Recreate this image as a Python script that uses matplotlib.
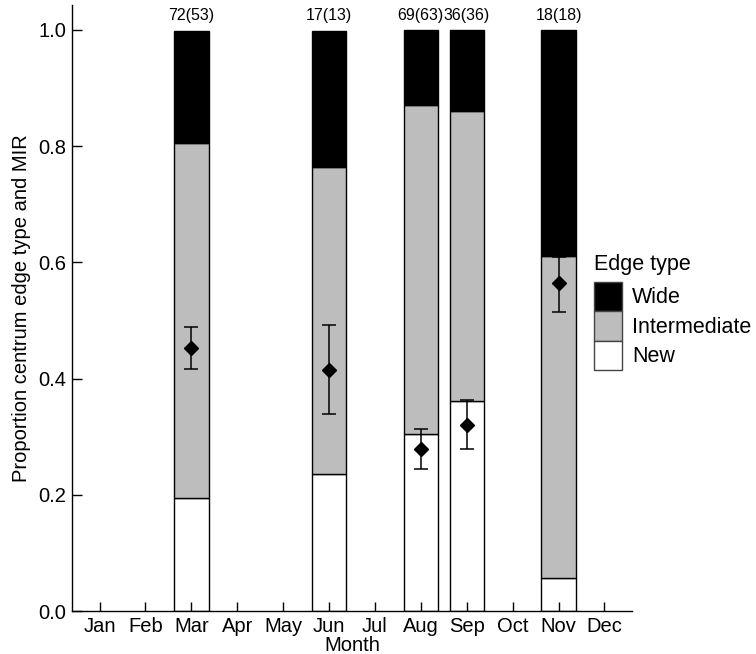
import matplotlib
matplotlib.use("Agg")
import matplotlib.pyplot as plt
from matplotlib.patches import Patch
import numpy as np

plt.rcParams['font.family'] = ['Liberation Sans', 'DejaVu Sans']

months = ["Jan", "Feb", "Mar", "Apr", "May", "Jun", "Jul", "Aug", "Sep", "Oct", "Nov", "Dec"]
sample_months = [3, 6, 8, 9, 11]
new_prop = [0.194, 0.235, 0.304, 0.361, 0.056]
inter_prop = [0.611, 0.529, 0.566, 0.500, 0.555]
wide_prop = [0.194, 0.235, 0.130, 0.139, 0.389]
mir_mean = [0.452, 0.415, 0.279, 0.321, 0.564]
mir_low = [0.417, 0.339, 0.245, 0.278, 0.514]
mir_high = [0.488, 0.492, 0.314, 0.364, 0.610]
n_labels = ["72(53)", "17(13)", "69(63)", "36(36)", "18(18)"]

gray = '#bdbdbd'

fig = plt.figure(figsize=(7.56, 6.54), dpi=100)
ax = fig.add_axes([0.0952, 0.0657, 0.7408, 0.9267])

x = np.array(sample_months)
new = np.array(new_prop)
inter = np.array(inter_prop)
wide = np.array(wide_prop)
w = 0.75
ax.bar(x, new, width=w, color='white', edgecolor='black', linewidth=1.0)
ax.bar(x, inter, width=w, bottom=new, color=gray, edgecolor='black', linewidth=1.0)
ax.bar(x, wide, width=w, bottom=new + inter, color='black', edgecolor='black', linewidth=1.0)

mean = np.array(mir_mean)
yerr = np.vstack([mean - np.array(mir_low), np.array(mir_high) - mean])
ax.errorbar(x, mean, yerr=yerr, fmt='D', color='black', markersize=6.7,
            ecolor='black', elinewidth=1.1, capsize=4.7, capthick=1.1)

for xi, lab in zip(x, n_labels):
    ax.annotate(lab, (xi, 1.0), xytext=(0, 5), textcoords='offset points',
                ha='center', va='bottom', fontsize=11.5)

ax.set_xlim(0.4, 12.6)
ax.set_ylim(0, 1.043)
ax.set_xticks(range(1, 13))
ax.set_xticklabels(months)
ax.set_yticks([0.0, 0.2, 0.4, 0.6, 0.8, 1.0])
ax.set_yticklabels(["0.0", "0.2", "0.4", "0.6", "0.8", "1.0"])
ax.tick_params(axis='x', direction='in', length=6.7, width=1.0, labelsize=14.5, pad=4.5)
ax.tick_params(axis='y', direction='in', length=7, width=1.0, labelsize=14.5, pad=4)
for s in ['top', 'right']:
    ax.spines[s].set_visible(False)
for s in ['left', 'bottom']:
    ax.spines[s].set_linewidth(1.0)
ax.set_xlabel("Month", fontsize=14.5, labelpad=-0.5)
ax.set_ylabel("Proportion centrum edge type and MIR", fontsize=14.5, labelpad=5)

handles = [Patch(facecolor='black', edgecolor='#444444', label='Wide'),
           Patch(facecolor=gray, edgecolor='#444444', label='Intermediate'),
           Patch(facecolor='white', edgecolor='#444444', label='New')]
leg = fig.legend(handles=handles, title='Edge type', loc='upper left',
                 bbox_to_anchor=(0.786, 0.612), frameon=False, fontsize=15.5,
                 title_fontsize=15.5, handlelength=1.3, handleheight=1.73,
                 labelspacing=0.0, handletextpad=0.45, borderpad=0, borderaxespad=0)
leg._legend_box.align = 'left'
leg._legend_box.sep = 5

fig.savefig('out.png', dpi=100)
